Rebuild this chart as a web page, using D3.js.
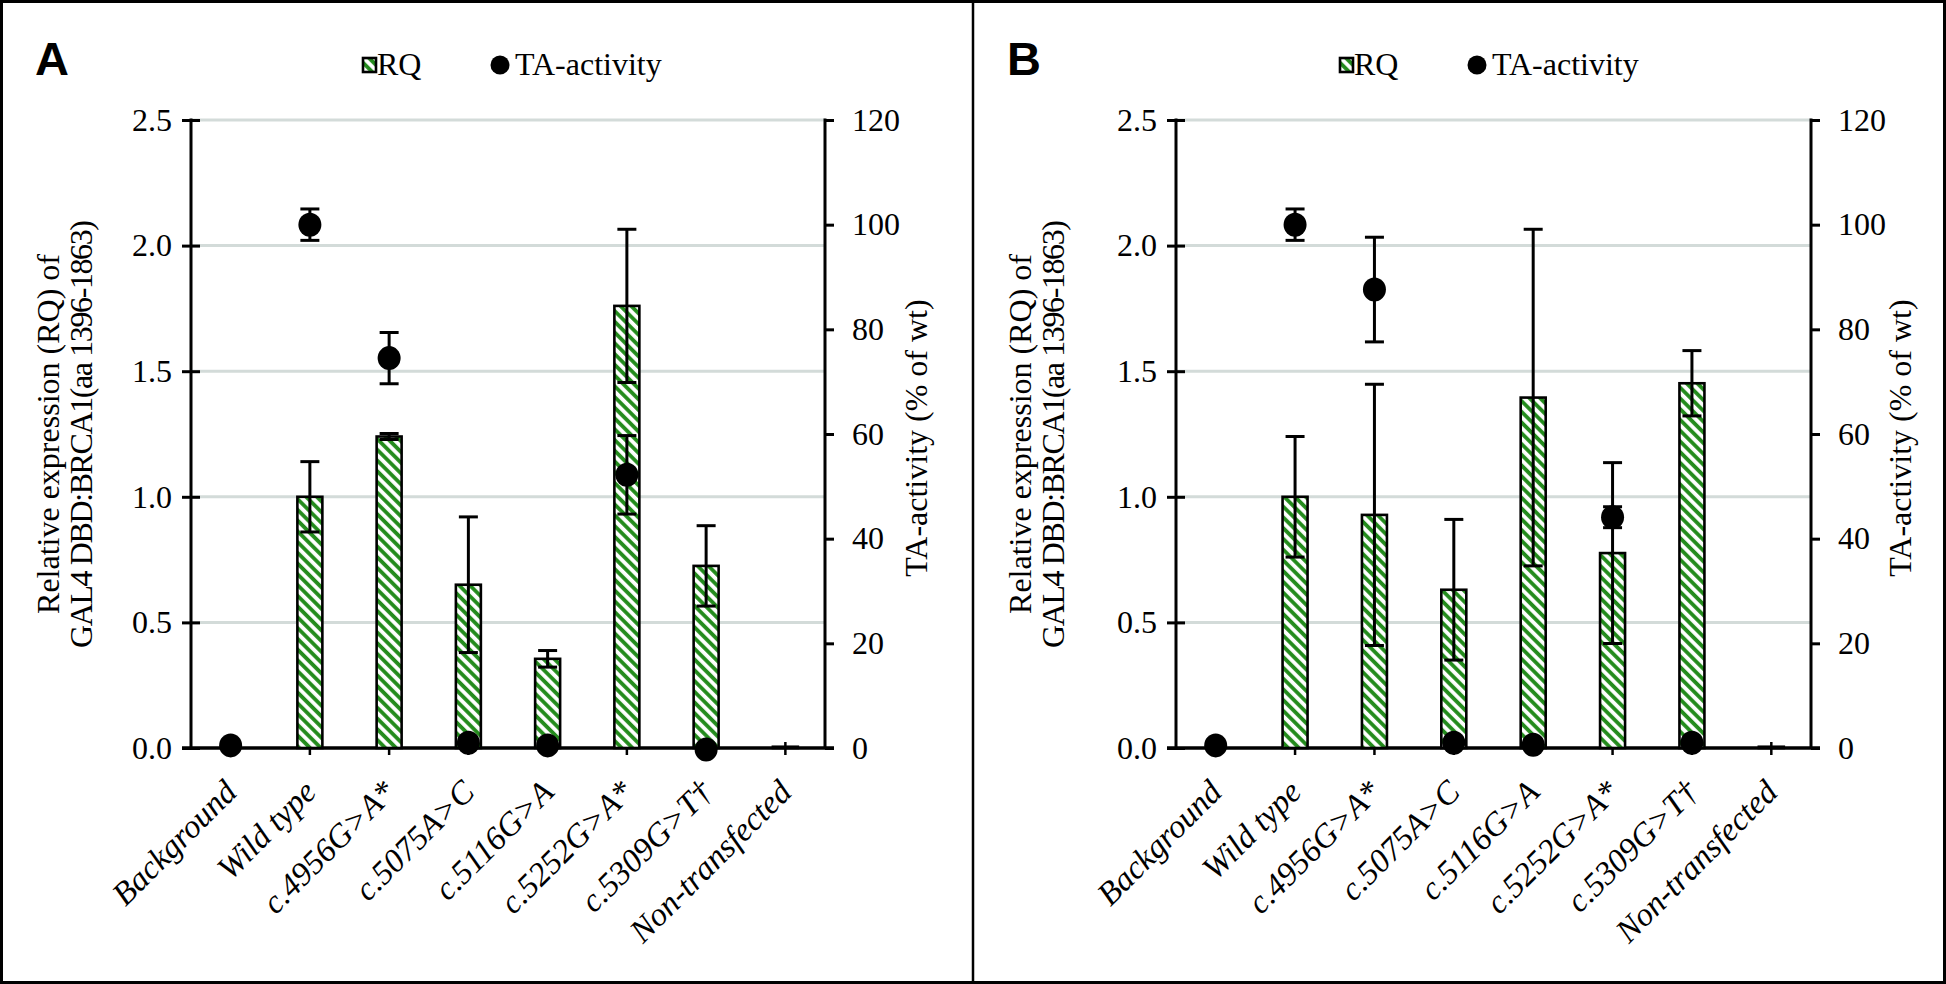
<!DOCTYPE html>
<html>
<head>
<meta charset="utf-8">
<script src="https://cdn.jsdelivr.net/npm/d3@7"></script>
<style>
  body { margin: 0; background: #fff; }
  svg text { font-family: "Liberation Serif", "Times New Roman", Times, serif; fill: #000; }
</style>
</head>
<body>
<script>
// categories and tick labels
const categories = ["Background", "Wild type", "c.4956G>A*", "c.5075A>C", "c.5116G>A", "c.5252G>A*", "c.5309G>T†", "Non-transfected"];
const rqTicks = [0, 0.5, 1.0, 1.5, 2.0, 2.5];
const taTicks = [0, 20, 40, 60, 80, 100, 120];

// panel A values
const rqA    = [null, 1.00, 1.24, 0.65, 0.355, 1.76, 0.725, 0.005];
const rqErrA = [null, 0.14, 0.012, 0.27, 0.033, 0.305, 0.16, 0];
const taA    = [0.5, 100, 74.5, 1.0, 0.5, 52.2, -0.3, null];
const taErrA = [0, 3, 4.9, 0, 0, 7.5, 0, null];

// panel B values
const rqB    = [null, 1.00, 0.928, 0.63, 1.395, 0.776, 1.452, 0.005];
const rqErrB = [null, 0.24, 0.52, 0.28, 0.67, 0.36, 0.13, 0];
const taB    = [0.5, 100, 87.6, 1.0, 0.6, 44.1, 1.0, null];
const taErrB = [0, 3, 10, 0, 0, 2, 0, null];

const width = 1946, height = 984;
const green = "#238b1c";
const plotTop = 120, plotBottom = 748;

const svg = d3.select("body").append("svg")
  .attr("width", width)
  .attr("height", height);

// diagonal hatch used by the bars
const hatch = 7.6;
svg.append("defs").append("pattern")
  .attr("id", "hatch")
  .attr("patternUnits", "userSpaceOnUse")
  .attr("width", hatch).attr("height", hatch)
  .attr("patternTransform", "rotate(-45)")
  .call(p => {
    p.append("rect").attr("width", hatch).attr("height", hatch).attr("fill", "#fff");
    p.append("line").attr("x1", 2).attr("x2", 2).attr("y1", 0).attr("y2", hatch)
      .attr("stroke", green).attr("stroke-width", 3.8);
  });

// outer frame + divider
svg.append("rect").attr("x", 1.5).attr("y", 1.5)
  .attr("width", width - 3).attr("height", height - 3)
  .attr("fill", "none").attr("stroke", "#000").attr("stroke-width", 3);
svg.append("line").attr("x1", 973).attr("x2", 973).attr("y1", 0).attr("y2", height)
  .attr("stroke", "#000").attr("stroke-width", 2.5);

const panels = [
  { label: "A", labelX: 35, left: 191, right: 825, legendX: 362, titleX: 59, rightTitleX: 927,
    rq: rqA, rqErr: rqErrA, ta: taA, taErr: taErrA },
  { label: "B", labelX: 1007, left: 1176, right: 1811, legendX: 1339, titleX: 1031, rightTitleX: 1911,
    rq: rqB, rqErr: rqErrB, ta: taB, taErr: taErrB }
];

panels.forEach(drawPanel);

function drawPanel(p) {
  const g = svg.append("g");

  const x = d3.scaleBand().domain(categories).range([p.left, p.right]);
  const y = d3.scaleLinear().domain([0, 2.5]).range([plotBottom, plotTop]);
  const y2 = d3.scaleLinear().domain([0, 120]).range([plotBottom, plotTop]);
  const cx = d => x(d) + x.bandwidth() / 2;
  const barW = 25, capW = 19;

  // panel letter
  g.append("text")
    .attr("x", p.labelX).attr("y", 75)
    .style("font-family", "'Liberation Sans', Arial, sans-serif")
    .style("font-weight", "bold")
    .style("font-size", "47px")
    .text(p.label);

  // gridlines
  g.selectAll(".grid").data(rqTicks.filter(t => t > 0)).join("line")
    .attr("x1", p.left).attr("x2", p.right)
    .attr("y1", d => y(d)).attr("y2", d => y(d))
    .attr("stroke", "#d3dbd9").attr("stroke-width", 3);

  // left axis
  const leftAxis = g.append("g").attr("transform", `translate(${p.left},0)`)
    .call(d3.axisLeft(y).tickValues(rqTicks).tickFormat(d3.format(".1f")).tickSize(9).tickPadding(9));
  leftAxis.select(".domain").remove();
  leftAxis.selectAll(".tick line").attr("x2", -9).attr("x1", 9).attr("stroke", "#000").attr("stroke-width", 3);
  leftAxis.selectAll(".tick text").style("font-size", "32px").attr("x", -19);
  leftAxis.append("line").attr("y1", plotTop - 1.5).attr("y2", plotBottom).attr("stroke", "#000").attr("stroke-width", 3);

  // right axis
  const rightAxis = g.append("g").attr("transform", `translate(${p.right},0)`)
    .call(d3.axisRight(y2).tickValues(taTicks).tickSize(9).tickPadding(18));
  rightAxis.select(".domain").remove();
  rightAxis.selectAll(".tick line").attr("stroke", "#000").attr("stroke-width", 3);
  rightAxis.selectAll(".tick text").style("font-size", "32px");
  rightAxis.append("line").attr("y1", plotTop - 1.5).attr("y2", plotBottom).attr("stroke", "#000").attr("stroke-width", 3);

  // bottom axis
  g.append("line")
    .attr("x1", p.left - 9).attr("x2", p.right + 9)
    .attr("y1", plotBottom).attr("y2", plotBottom)
    .attr("stroke", "#000").attr("stroke-width", 3.5);
  g.selectAll(".xtick").data(categories).join("line")
    .attr("x1", d => cx(d)).attr("x2", d => cx(d))
    .attr("y1", plotBottom - 6).attr("y2", plotBottom + 7)
    .attr("stroke", "#000").attr("stroke-width", 2.5);

  // category labels
  g.selectAll(".xlab").data(categories).join("text")
    .attr("transform", d => `translate(${cx(d) + 8},${plotBottom + 46}) rotate(-45)`)
    .attr("text-anchor", "end")
    .style("font-style", "italic")
    .style("font-size", "33px")
    .text(d => d);

  // axis titles
  const midY = (plotTop + plotBottom) / 2;
  const lt = g.append("text")
    .attr("transform", `translate(${p.titleX},${midY}) rotate(-90)`)
    .attr("text-anchor", "middle")
    .style("font-size", "32px");
  lt.append("tspan").attr("x", 0).attr("y", 0).text("Relative expression (RQ) of");
  lt.append("tspan").attr("x", 0).attr("y", 33)
    .attr("textLength", 428).attr("lengthAdjust", "spacing")
    .text("GAL4 DBD:BRCA1(aa 1396-1863)");

  g.append("text")
    .attr("transform", `translate(${p.rightTitleX},${midY + 4}) rotate(-90)`)
    .attr("text-anchor", "middle")
    .style("font-size", "32px")
    .text("TA-activity (% of wt)");

  // bars (RQ)
  const barData = categories.map((c, i) => ({ c, v: p.rq[i], e: p.rqErr[i] })).filter(d => d.v != null);
  g.selectAll(".bar").data(barData).join("rect")
    .attr("x", d => cx(d.c) - barW / 2)
    .attr("y", d => y(d.v))
    .attr("width", barW)
    .attr("height", d => y(0) - y(d.v))
    .attr("fill", "url(#hatch)")
    .attr("stroke", "#000").attr("stroke-width", 2.6);

  drawErr(g, barData.filter(d => d.e > 0), y, cx, capW);

  // TA-activity points
  const dotData = categories.map((c, i) => ({ c, v: p.ta[i], e: p.taErr[i] })).filter(d => d.v != null);
  drawErr(g, dotData.filter(d => d.e > 0), y2, cx, capW);
  g.selectAll(".dot").data(dotData).join("ellipse")
    .attr("cx", d => cx(d.c)).attr("cy", d => y2(d.v))
    .attr("rx", 11.5).attr("ry", 12)
    .attr("fill", "#000");

  // legend
  const lg = g.append("g").attr("transform", `translate(${p.legendX},0)`);
  lg.append("rect").attr("x", 1).attr("y", 58).attr("width", 13).attr("height", 14)
    .attr("fill", "url(#hatch)").attr("stroke", "#000").attr("stroke-width", 2.6);
  lg.append("text").attr("x", 15).attr("y", 75).style("font-size", "32px").text("RQ");
  lg.append("circle").attr("cx", 138).attr("cy", 65).attr("r", 9.5).attr("fill", "#000");
  lg.append("text").attr("x", 153).attr("y", 75).style("font-size", "32px").text("TA-activity");
}

function drawErr(g, data, scale, cx, capW) {
  const eg = g.append("g").attr("stroke", "#000").attr("stroke-width", 3);
  eg.selectAll(".v").data(data).join("line")
    .attr("x1", d => cx(d.c)).attr("x2", d => cx(d.c))
    .attr("y1", d => scale(d.v - d.e)).attr("y2", d => scale(d.v + d.e));
  eg.selectAll(".t").data(data).join("line")
    .attr("x1", d => cx(d.c) - capW / 2).attr("x2", d => cx(d.c) + capW / 2)
    .attr("y1", d => scale(d.v + d.e)).attr("y2", d => scale(d.v + d.e));
  eg.selectAll(".b").data(data).join("line")
    .attr("x1", d => cx(d.c) - capW / 2).attr("x2", d => cx(d.c) + capW / 2)
    .attr("y1", d => scale(d.v - d.e)).attr("y2", d => scale(d.v - d.e));
}
</script>
</body>
</html>
